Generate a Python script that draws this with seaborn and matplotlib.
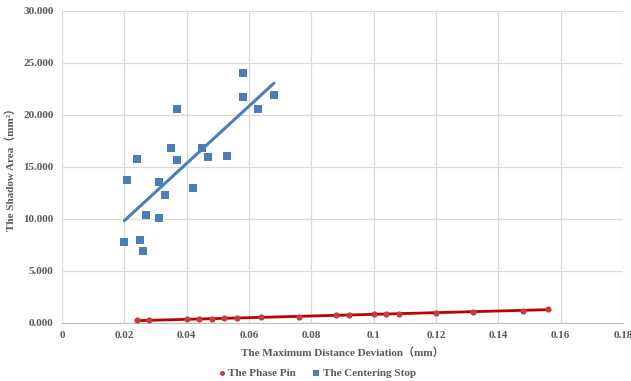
import numpy as np
import pandas as pd
import matplotlib
matplotlib.use('Agg')
import matplotlib.pyplot as plt
import seaborn as sns
from matplotlib.ticker import FuncFormatter

# Data
pin_x = [0.024, 0.028, 0.040, 0.044, 0.048, 0.052, 0.056, 0.064, 0.076,
         0.088, 0.092, 0.100, 0.104, 0.108, 0.120, 0.132, 0.148, 0.156]
pin_y = [0.26, 0.26, 0.35, 0.40, 0.40, 0.45, 0.45, 0.55, 0.60,
         0.75, 0.78, 0.85, 0.85, 0.90, 1.00, 1.10, 1.20, 1.30]

stop_x = [0.020, 0.025, 0.026, 0.027, 0.031, 0.021, 0.024, 0.031, 0.033, 0.035,
          0.037, 0.037, 0.042, 0.045, 0.047, 0.053, 0.058, 0.058, 0.063, 0.068]
stop_y = [7.80, 7.95, 6.90, 10.35, 10.10, 13.75, 15.75, 13.60, 12.35, 16.80,
          15.70, 20.55, 13.00, 16.80, 16.00, 16.10, 24.00, 21.70, 20.60, 21.90]

series_names = ['The Phase Pin', 'The Centering Stop']
x_ticks = [0, 0.02, 0.04, 0.06, 0.08, 0.1, 0.12, 0.14, 0.16, 0.18]
y_ticks = [0, 5, 10, 15, 20, 25, 30]

sns.set_style('white')
plt.rcParams['font.family'] = ['Liberation Serif', 'Noto Sans CJK SC', 'DejaVu Sans']
plt.rcParams['font.weight'] = 'bold'

red_pt, red_ln = '#C0403A', '#C00000'
blue_pt, blue_ln = '#4A7EBB', '#4A7EBB'
txt = '#595959'

pin_df = pd.DataFrame({'x': pin_x, 'y': pin_y})
stop_df = pd.DataFrame({'x': stop_x, 'y': stop_y})

fig = plt.figure(figsize=(6.31, 3.81), dpi=100)
ax = fig.add_axes([62 / 631, 1 - 323 / 381, 561 / 631, 312 / 381])

# trend lines (linear fit)
sns.regplot(data=pin_df, x='x', y='y', ax=ax, ci=None, scatter=False,
            line_kws={'color': red_ln, 'lw': 2})
sns.regplot(data=stop_df, x='x', y='y', ax=ax, ci=None, scatter=False,
            line_kws={'color': blue_ln, 'lw': 2.2})

sns.scatterplot(data=pin_df, x='x', y='y', ax=ax, marker='o', s=20,
                color=red_pt, edgecolor=red_pt, linewidth=0,
                label=series_names[0], zorder=3)
sns.scatterplot(data=stop_df, x='x', y='y', ax=ax, marker='s', s=30,
                color=blue_pt, edgecolor=blue_pt, linewidth=0,
                label=series_names[1], zorder=3)

ax.set_xlim(0, 0.18)
ax.set_ylim(0, 30)
ax.set_xticks(x_ticks)
ax.set_yticks(y_ticks)
ax.xaxis.set_major_formatter(FuncFormatter(lambda v, p: '0' if v == 0 else f'{v:g}'))
ax.yaxis.set_major_formatter(FuncFormatter(lambda v, p: f'{v:.3f}'))
ax.grid(True, color='#D9D9D9', lw=0.9)
ax.set_axisbelow(True)
for s in ['top', 'right', 'left']:
    ax.spines[s].set_visible(False)
ax.spines['bottom'].set_color('#BFBFBF')
ax.tick_params(length=0, labelsize=8, colors=txt, pad=6)
for lab in ax.get_xticklabels() + ax.get_yticklabels():
    lab.set_fontweight('bold')

ax.set_xlabel('The Maximum Distance Deviation（mm）', fontsize=8,
              fontweight='bold', color=txt, labelpad=5)
ax.set_ylabel('The Shadow Area（mm²）', fontsize=8, fontweight='bold',
              color=txt, labelpad=5)

ax.legend_.remove()
handles, labels = ax.get_legend_handles_labels()
fig.legend(handles, labels, loc='center', bbox_to_anchor=(0.5, 1 - 373 / 381),
           ncol=2, frameon=False, prop={'size': 8, 'weight': 'bold'},
           labelcolor=txt, handletextpad=0.0, columnspacing=1.2,
           handlelength=1.2, markerscale=0.8)

fig.savefig('out.png', dpi=100)
